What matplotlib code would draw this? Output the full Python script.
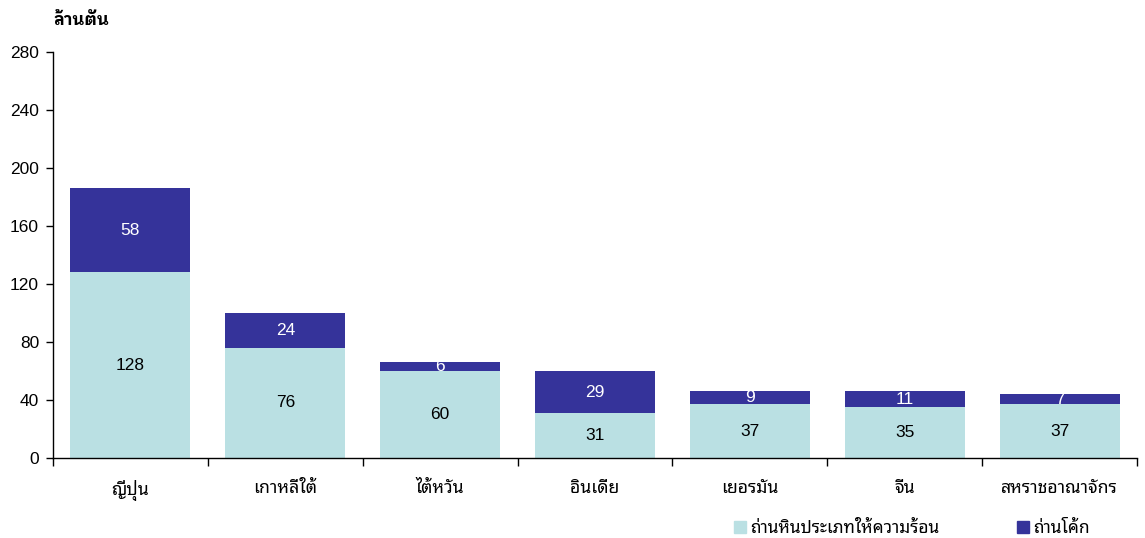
import matplotlib
matplotlib.use("Agg")
import matplotlib.pyplot as plt
from matplotlib.patches import Patch
import numpy as np

# Digits in an Arial-like face, Thai glyphs from a looped Thai face
plt.rcParams["font.family"] = ["Liberation Sans", "Noto Sans Thai Looped"]

countries = ["ญี่ปุ่น", "เกาหลีใต้", "ไต้หวัน", "อินเดีย", "เยอรมัน", "จีน", "สหราชอาณาจักร"]
thermal = [128, 76, 60, 31, 37, 35, 37]
coking = [58, 24, 6, 29, 9, 11, 7]
series_names = ["ถ่านหินประเภทให้ความร้อน", "ถ่านโค้ก"]
unit_label = "ล้านตัน"
y_ticks = [0, 40, 80, 120, 160, 200, 240, 280]

light = "#BAE0E3"
dark = "#35339A"

fig = plt.figure(figsize=(11.45, 5.38), dpi=100)
ax = fig.add_axes([53 / 1145, 1 - 458 / 538, (1137 - 53) / 1145, (458 - 52) / 538])

x = np.arange(len(countries))
w = 0.775
ax.bar(x, thermal, width=w, color=light, zorder=2)
ax.bar(x, coking, width=w, bottom=thermal, color=dark, zorder=2)

for xi, t, c in zip(x, thermal, coking):
    ax.text(xi, t / 2, f"{t}", ha="center", va="center", fontsize=12.5, color="black")
    ax.text(xi, t + c / 2, f"{c}", ha="center", va="center", fontsize=12.5, color="white")

ax.set_xlim(-0.5, len(countries) - 0.5)
ax.set_ylim(0, 280)
ax.set_yticks(y_ticks)
ax.set_yticklabels([str(v) for v in y_ticks], fontsize=12.5)
ax.tick_params(axis="y", length=5, width=1, pad=5, color="black")

ax.set_xticks(x)
ax.set_xticklabels(countries, fontsize=12.7)
ax.tick_params(axis="x", which="major", length=0, pad=15.5)
ax.set_xticks(np.arange(-0.5, len(countries)), minor=True)
ax.tick_params(axis="x", which="minor", length=6, width=1, color="black")

for s in ["top", "right"]:
    ax.spines[s].set_visible(False)
for s in ["left", "bottom"]:
    ax.spines[s].set_linewidth(1)
    ax.spines[s].set_color("black")

fig.text(53 / 1145, 1 - 20 / 538, unit_label, ha="left", va="center",
         fontsize=12, fontweight="bold",
         family=["Liberation Sans", "IBM Plex Sans Thai Looped"])

handles = [Patch(color=light), Patch(color=dark)]
fig.legend(handles, series_names, ncol=2, loc="center left",
           bbox_to_anchor=(734 / 1145, 1 - 528 / 538), frameon=False,
           fontsize=12.5, handlelength=0.7, handleheight=0.7, handletextpad=0.25,
           columnspacing=4.45, borderaxespad=0, borderpad=0)

fig.savefig("out.png", dpi=100)
